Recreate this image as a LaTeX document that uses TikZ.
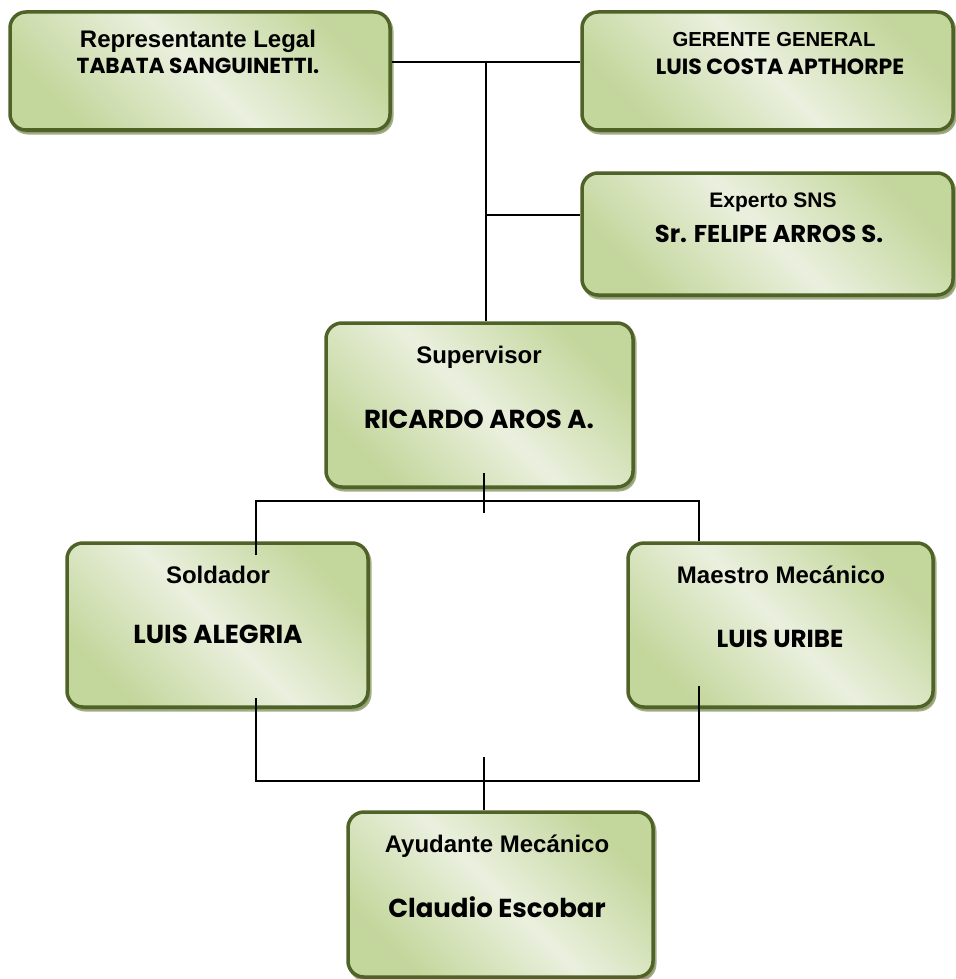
\documentclass[tikz,border=0pt]{standalone}
\usepackage{fontspec}
\setmainfont{Liberation Sans}
\newfontfamily\namefont{Poppins}
\usetikzlibrary{shadows}
\definecolor{olborder}{HTML}{4F6228}
\definecolor{ollight}{HTML}{EAF0DE}
\definecolor{oldark}{HTML}{C3D69B}
\definecolor{olshadow}{HTML}{8C9A6C}
\tikzset{
  orgbox/.style={rounded corners=16pt, draw=olborder, line width=3.5pt,
    left color=oldark, right color=oldark, middle color=ollight, shading angle=-45,
    inner sep=0pt},
  boxshadow/.style={rounded corners=16pt, draw=olshadow, line width=3pt, fill=olshadow},
  titletxt/.style={font=\bfseries\fontsize{24}{28}\selectfont, anchor=base, inner sep=0pt},
  nametxt/.style={font=\namefont\bfseries\fontsize{26}{30}\selectfont, anchor=base, inner sep=0pt},
  conn/.style={line width=1.5pt, black}
}
\begin{document}
\begin{tikzpicture}[x=1pt,y=-1pt]
\useasboundingbox (0,0) rectangle (955,979);
% shadows
\foreach \xa/\ya/\xb/\yb in {10/12/390/130, 582/12/953/130, 582/173/953/295, 326/323/633/487, 67/543/368/707, 628/543/933/707, 348/812/653/977}{
  \path[boxshadow, opacity=0.8] (\xa+2,\ya+3) rectangle (\xb+2,\yb+3);
}
% boxes
\node[orgbox, minimum width=380pt, minimum height=118pt] (b1) at (200,71) {};
\node[orgbox, minimum width=371pt, minimum height=118pt] (b2) at (767.5,71) {};
\node[orgbox, minimum width=371pt, minimum height=122pt] (b3) at (767.5,234) {};
\node[orgbox, minimum width=307pt, minimum height=164pt] (b4) at (479.5,405) {};
\node[orgbox, minimum width=301pt, minimum height=164pt] (b5) at (217.5,625) {};
\node[orgbox, minimum width=305pt, minimum height=164pt] (b6) at (780.5,625) {};
\node[orgbox, minimum width=305pt, minimum height=165pt] (b7) at (500.5,894.5) {};
% texts
\node[titletxt] (t1a) at (198,48) {Representante Legal};
\node[nametxt, font=\namefont\bfseries\fontsize{21.7}{25}\selectfont] (t1b) at (198,74) {TABATA SANGUINETTI.};
\node[titletxt, font=\bfseries\fontsize{20.3}{24}\selectfont] (t2a) at (774,47) {GERENTE GENERAL};
\node[nametxt, font=\namefont\bfseries\fontsize{22}{25}\selectfont] (t2b) at (780,75) {LUIS COSTA APTHORPE};
\node[titletxt, font=\bfseries\fontsize{21}{24}\selectfont] (t3a) at (773,207) {Experto SNS};
\node[nametxt, font=\namefont\bfseries\fontsize{24.3}{28}\selectfont] (t3b) at (769,242) {Sr. FELIPE ARROS S.};
\node[titletxt] (t4a) at (479,363) {Supervisor};
\node[nametxt] (t4b) at (479,428) {RICARDO AROS A.};
\node[titletxt] (t5a) at (218,583) {Soldador};
\node[nametxt] (t5b) at (218,643) {LUIS ALEGRIA};
\node[titletxt] (t6a) at (781,583) {Maestro Mecánico};
\node[nametxt, font=\namefont\bfseries\fontsize{24.6}{28}\selectfont] (t6b) at (780,647) {LUIS URIBE};
\node[titletxt] (t7a) at (497,852) {Ayudante Mecánico};
\node[nametxt] (t7b) at (497,917) {Claudio Escobar};
% connector points
\coordinate (j1) at (486,62);
\coordinate (j2) at (486,215);
\coordinate (s1) at (484,473);
\coordinate (s2) at (484,513);
\coordinate (hL) at (256,501);
\coordinate (hR) at (699,501);
\coordinate (l1) at (256,555);
\coordinate (bL1) at (256,698);
\coordinate (bR1) at (699,686);
\coordinate (bL2) at (256,781);
\coordinate (bR2) at (699,781);
\coordinate (c1) at (484,757);
% connectors
\draw[conn] (b1.east |- j1) -- (b2.west |- j1);
\draw[conn] (j1) -- (b4.north -| j1);
\draw[conn] (j2) -- (b3.west |- j2);
\draw[conn] (s1) -- (s2);
\draw[conn] (l1) -- (hL) -- (hR) -- (b6.north -| hR);
\draw[conn] (bL1) -- (bL2) -- (bR2) -- (bR1);
\draw[conn] (c1) -- (b7.north -| c1);
\end{tikzpicture}
\end{document}
